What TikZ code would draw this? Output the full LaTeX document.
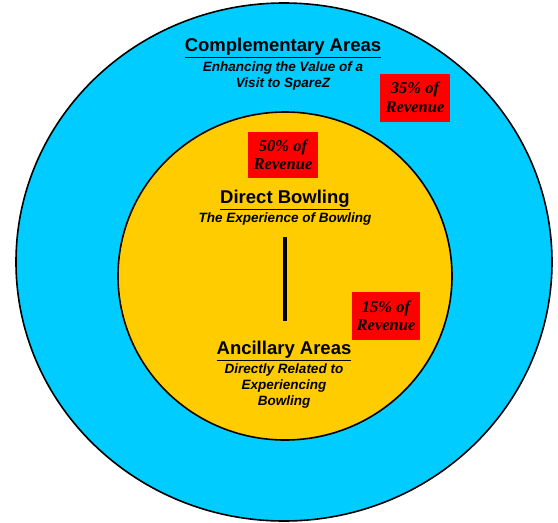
\documentclass[tikz,border=0pt]{standalone}
\usepackage{fontspec}
\setmainfont{Liberation Serif}
\setsansfont{Liberation Sans}
\usetikzlibrary{positioning,shapes.geometric}
\definecolor{sky}{HTML}{00CCFF}
\definecolor{gold}{HTML}{FFCC00}
\definecolor{rev}{HTML}{FF0000}
\tikzset{
  ring/.style={ellipse,draw=black,line width=1.6pt,inner sep=0pt},
  head/.style={align=center,font=\sffamily\bfseries\fontsize{18.5}{20}\selectfont,text=black},
  sub/.style={align=center,font=\sffamily\bfseries\itshape\fontsize{13.5}{16}\selectfont,text=black},
  revbox/.style={fill=rev,minimum width=70pt,minimum height=48pt,inner sep=1pt,align=center,
    font=\rmfamily\bfseries\itshape\fontsize{16.5}{18.5}\selectfont},
  bar/.style={draw=black,line width=3.5pt},
}
\begin{document}
\begin{tikzpicture}[x=1pt,y=-1pt]
  \useasboundingbox[fill=white] (0,0) rectangle (558,523);
  % rings
  \node[ring,fill=sky,minimum width=536pt,minimum height=518pt] (outer) at (284,262) {};
  \node[ring,fill=gold,minimum width=334pt,minimum height=328pt] (inner) at (285,276) {};
  % outer area
  \node[head] (comp) at (283,48) {\underline{Complementary Areas}};
  \node[sub,below=-3pt of comp] (compsub) {Enhancing the Value of a\\Visit to SpareZ};
  \node[revbox] (r35) at (415,97.5) {35\% of\\Revenue};
  % inner area
  \node[revbox,minimum width=70pt,minimum height=46pt] (r50) at (283,155) {50\% of\\Revenue};
  \node[head] (direct) at (285,200) {\underline{Direct Bowling}};
  \node[sub,below=-4pt of direct] (directsub) {The Experience of Bowling};
  \node[revbox,minimum width=68pt] (r15) at (386,316) {15\% of\\Revenue};
  \node[head] (ancil) at (284,351) {\underline{Ancillary Areas}};
  \node[sub,below=-4pt of ancil] (ancilsub) {Directly Related to\\Experiencing\\Bowling};
  \coordinate (bartop) at (285,237);
  \coordinate (barbot) at (285,321);
  \draw[bar] (bartop) -- (barbot);
\end{tikzpicture}
\end{document}
